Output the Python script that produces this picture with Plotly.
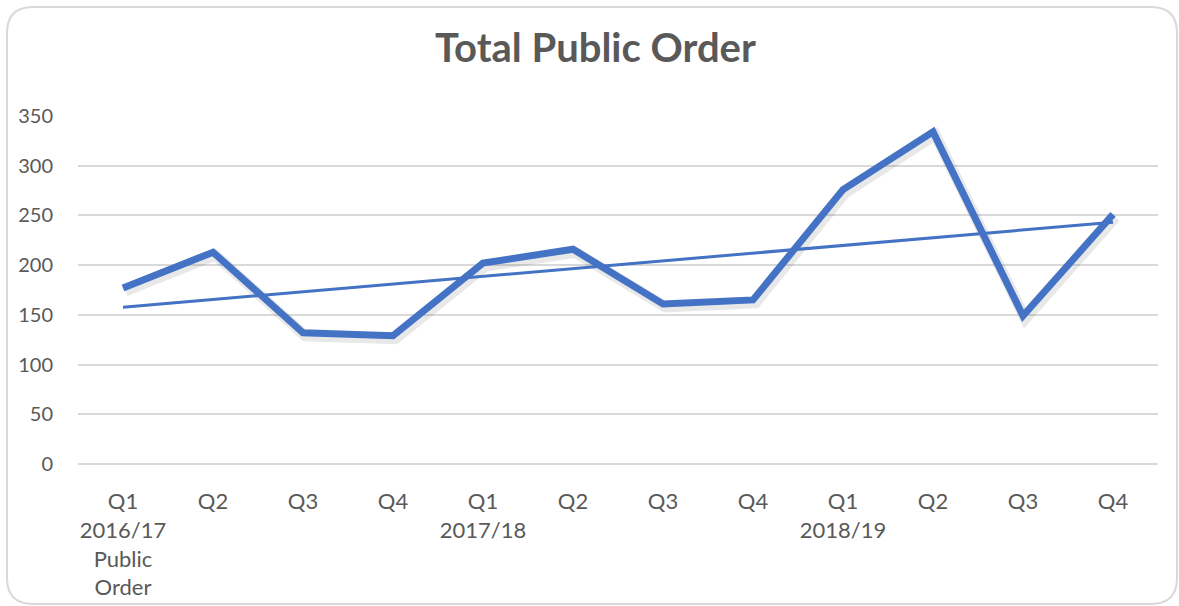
import numpy as np
import plotly.graph_objects as go

quarters = ['Q1', 'Q2', 'Q3', 'Q4', 'Q1', 'Q2', 'Q3', 'Q4', 'Q1', 'Q2', 'Q3', 'Q4']
tick_labels = ['Q1<br>2016/17<br>Public<br>Order', 'Q2', 'Q3', 'Q4',
               'Q1<br>2017/18', 'Q2', 'Q3', 'Q4',
               'Q1<br>2018/19', 'Q2', 'Q3', 'Q4']
public_order = [177, 213, 132, 129, 202, 216, 161, 165, 276, 334, 149, 251]

x = np.arange(len(public_order))
slope, intercept = np.polyfit(x, public_order, 1)
trend = slope * x + intercept

BLUE = '#4472C4'
GREY = '#595959'

fig = go.Figure()
# soft drop shadow under the main line
fig.add_trace(go.Scatter(x=x + 0.025, y=np.array(public_order) - 3, mode='lines',
                         line=dict(color='rgba(0,0,0,0.09)', width=11),
                         hoverinfo='skip', showlegend=False))
fig.add_trace(go.Scatter(x=x, y=public_order, mode='lines', name='Public Order',
                         line=dict(color=BLUE, width=7), showlegend=False))
fig.add_trace(go.Scatter(x=x, y=trend, mode='lines', name='Linear (Public Order)',
                         line=dict(color=BLUE, width=3), showlegend=False))

# rounded chart border (pixel positions mapped to paper coords)
L, R, T, B = 78, 1158, 116, 464
def px(v):
    return (v - L) / (R - L)
def py(v):
    return (B - v) / (B - T)
x0, x1, y0, y1, r = 7, 1177, 7, 604, 26
path = (f'M {px(x0 + r)},{py(y0)} L {px(x1 - r)},{py(y0)} '
        f'Q {px(x1)},{py(y0)} {px(x1)},{py(y0 + r)} L {px(x1)},{py(y1 - r)} '
        f'Q {px(x1)},{py(y1)} {px(x1 - r)},{py(y1)} L {px(x0 + r)},{py(y1)} '
        f'Q {px(x0)},{py(y1)} {px(x0)},{py(y1 - r)} L {px(x0)},{py(y0 + r)} '
        f'Q {px(x0)},{py(y0)} {px(x0 + r)},{py(y0)} Z')
fig.add_shape(type='path', path=path, xref='paper', yref='paper',
              line=dict(color='#D9D9D9', width=2), layer='below')

fig.update_layout(
    width=1179, height=606,
    margin=dict(l=L, r=1179 - R, t=T, b=606 - B),
    paper_bgcolor='white', plot_bgcolor='white',
    font=dict(family='Lato, Open Sans, sans-serif', color=GREY, size=20),
    title=dict(text='<b>Total Public Order</b>', x=0.505, xanchor='center',
               y=1 - 48 / 606, yanchor='middle',
               font=dict(size=40, color=GREY, family='Lato, sans-serif')),
    xaxis=dict(range=[-0.5, 11.5], tickvals=x, ticktext=tick_labels,
               showgrid=False, zeroline=False, showline=False, automargin=False,
               ticks='outside', ticklen=18, tickcolor='rgba(0,0,0,0)',
               tickfont=dict(size=22, color=GREY), fixedrange=True),
    yaxis=dict(range=[0, 350], tickvals=[0, 50, 100, 150, 200, 250, 300, 350],
               showgrid=True, gridcolor='#D9D9D9', gridwidth=1.5,
               zeroline=True, zerolinecolor='#D9D9D9', zerolinewidth=2,
               showline=False, automargin=False,
               ticks='outside', ticklen=20, tickcolor='rgba(0,0,0,0)',
               tickfont=dict(size=20, color=GREY), fixedrange=True),
    showlegend=False,
)

fig.write_html('out.html', config={'displayModeBar': False},
               post_script="document.body.style.margin='0';")
